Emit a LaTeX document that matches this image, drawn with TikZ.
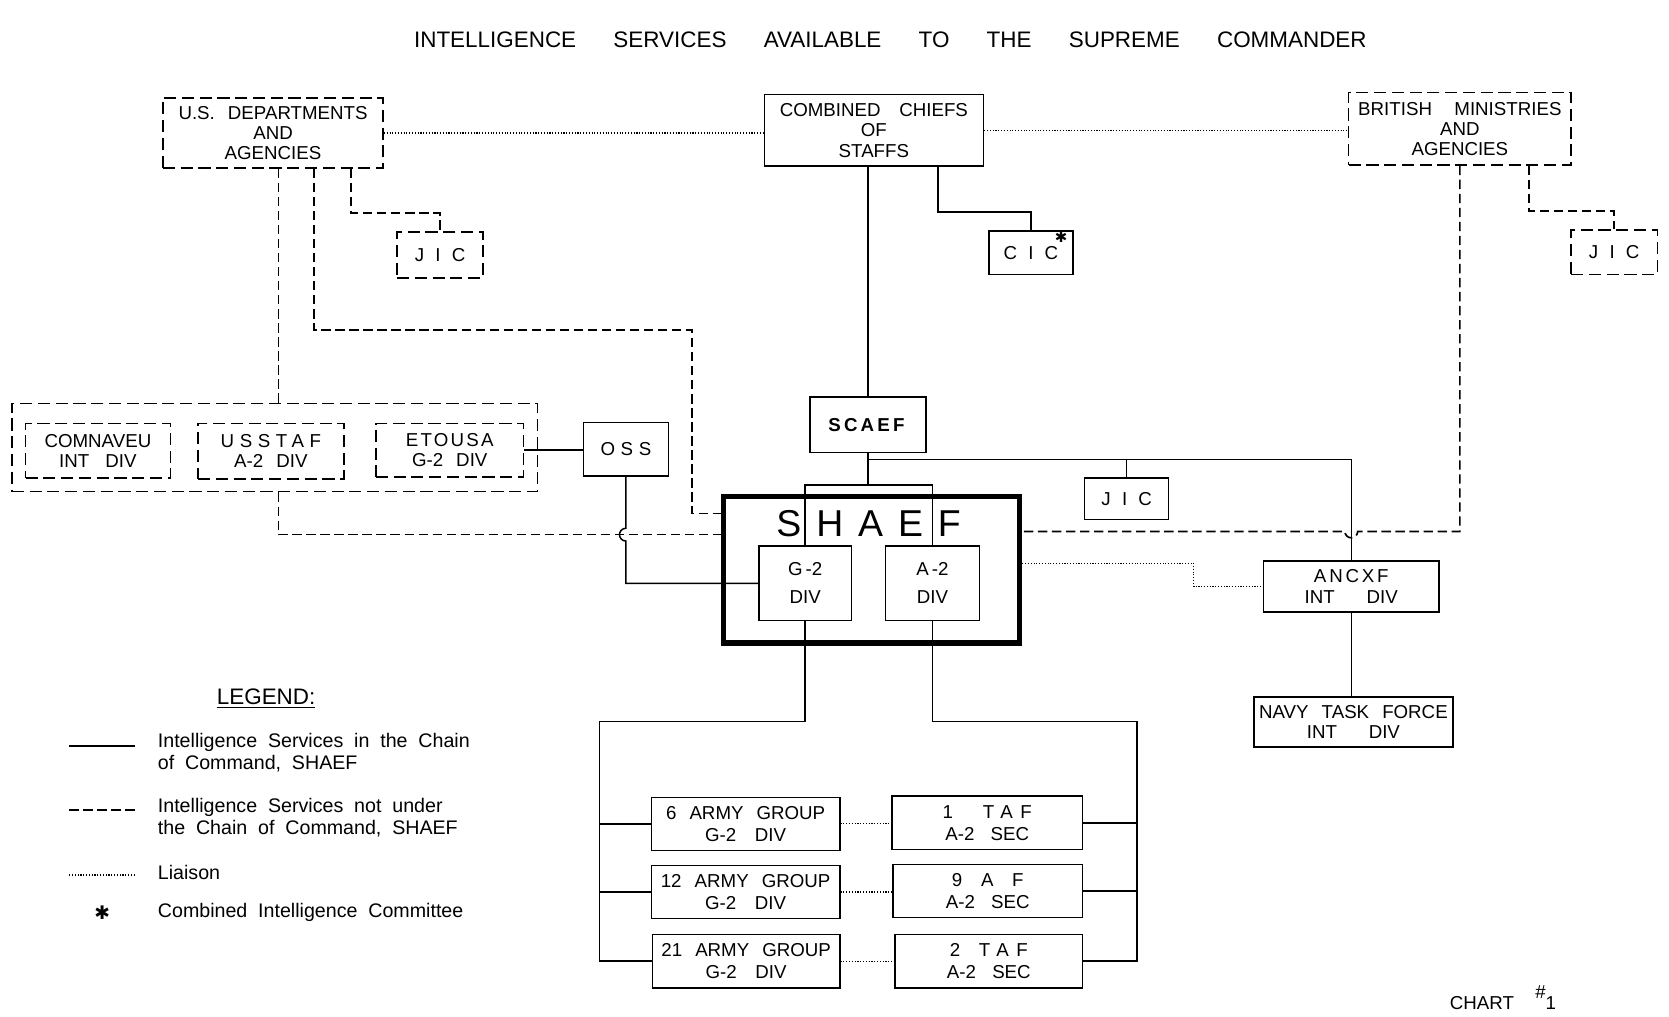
\documentclass[tikz,border=0pt]{standalone}
\usepackage{fontspec}
\setmainfont{Liberation Sans}
\newfontfamily\symfont{DejaVu Sans}
\usetikzlibrary{calc}
\newcommand{\trk}[2][30]{{\addfontfeature{LetterSpace=#1}#2}}
\tikzset{
    box/.style={rectangle, draw, line width=0.8pt, align=center, inner sep=1pt, font=\fontsize{10}{10.8}\selectfont\spaceskip 7pt\relax},
    extbox/.style={box, dash pattern=on 6.5pt off 3pt},
    boxsize/.style 2 args={minimum width=#1, minimum height=#2},
    chain/.style={line width=0.8pt},
    nochain/.style={line width=0.9pt, dash pattern=on 5pt off 2.5pt},
    liaison/.style={line width=0.6pt, dash pattern=on 0.6pt off 0.9pt},
    legtext/.style={anchor=west, align=left, inner sep=0pt, font=\fontsize{10.5}{11.5}\selectfont\spaceskip 5.8pt\relax},
}

\begin{document}
\begin{tikzpicture}[x=0.02cm, y=-0.02cm]
    \useasboundingbox (0,0) rectangle (1568,955);

    % Titolo
    \node[font=\fontsize{12}{14}\selectfont\spaceskip 0.7cm\relax] (title) at (836.5,37) {INTELLIGENCE SERVICES AVAILABLE TO THE SUPREME COMMANDER};

    % Vertice
    \node[extbox, boxsize={4.14cm}{1.32cm}] (us) at (256.5,125) {U.S.\ DEPARTMENTS\\AND\\AGENCIES};
    \node[box, boxsize={4.12cm}{1.34cm}] (ccs) at (821,122.5) {COMBINED\quad CHIEFS\\OF\\STAFFS};
    \node[extbox, boxsize={4.18cm}{1.36cm}] (brit) at (1371.5,121) {BRITISH \enspace MINISTRIES\\AND\\AGENCIES};
    \node[extbox, boxsize={1.62cm}{0.86cm}] (jicus) at (413.5,239.5) {\trk[60]{JIC}};
    \node[box, boxsize={1.58cm}{0.82cm}] (cic) at (968.5,237.5) {\trk[60]{CIC}};
    \node[font=\symfont\fontsize{8}{8}\selectfont, inner sep=0pt] (cicstar) at (997,223) {✱};
    \node[extbox, boxsize={1.62cm}{0.84cm}] (jicbr) at (1516.5,237) {\trk[60]{JIC}};

    % Servizi americani
    \node[extbox, boxsize={9.88cm}{1.66cm}] (grp) at (258,420.5) {};
    \node[extbox, boxsize={2.72cm}{1.02cm}] (comnav) at (92,423.5) {COMNAVEU\\INT \,DIV};
    \node[extbox, boxsize={2.74cm}{1.04cm}] (usstaf) at (254.5,424) {\trk{USSTAF}\\A-2 DIV};
    \node[extbox, boxsize={2.78cm}{1.0cm}] (etousa) at (422.5,423) {\trk[12]{ETOUSA}\\G-2 DIV};
    \node[box, boxsize={1.6cm}{1.0cm}] (oss) at (588,422) {\trk{OSS}};

    % SHAEF
    \node[box, boxsize={2.18cm}{1.04cm}] (scaef) at (815.5,399) {\textbf{\trk[17]{SCAEF}}};
    \node[draw, line width=2.8pt, boxsize={5.57cm}{2.75cm}] (shaef) at (818.75,535.3) {};
    \node[font=\fontsize{20}{22}\selectfont, inner sep=0pt] (shaeftxt) at (816,491.5) {S\hspace{2.8mm}H\hspace{2.8mm}A\hspace{2.8mm}E\hspace{2.8mm}F};
    \node[box, boxsize={1.74cm}{1.40cm}] (g2) at (756.5,548) {G\,-2\\[4pt]DIV};
    \node[box, boxsize={1.76cm}{1.40cm}] (a2) at (876,548) {A\,-2\\[4pt]DIV};
    \node[box, boxsize={1.58cm}{0.78cm}] (jicc) at (1058.5,468.5) {\trk[60]{JIC}};

    % Marina
    \node[box, boxsize={3.3cm}{0.96cm}] (ancxf) at (1269.5,551) {\trk[15]{ANCXF}\\INT \quad DIV};
    \node[box, boxsize={3.74cm}{0.94cm}] (navy) at (1271.5,678.5) {NAVY TASK FORCE\\INT \quad DIV};

    % Gruppi d'armata e forze aeree
    \node[box, boxsize={3.54cm}{1.0cm}] (ag6) at (700.5,774) {6 ARMY GROUP\\[1pt]G-2\quad DIV};
    \node[box, boxsize={3.54cm}{1.0cm}] (ag12) at (700.5,838) {12 ARMY GROUP\\[1pt]G-2\quad DIV};
    \node[box, boxsize={3.52cm}{1.0cm}] (ag21) at (701,903) {21 ARMY GROUP\\[1pt]G-2\quad DIV};
    \node[box, boxsize={3.58cm}{1.0cm}] (taf1) at (927.5,773) {1\hspace{1.6em}\trk[40]{TAF}\\[1pt]A-2 \,SEC};
    \node[box, boxsize={3.56cm}{1.0cm}] (af9) at (928,837) {9\quad A\quad F\\[1pt]A-2 \,SEC};
    \node[box, boxsize={3.52cm}{1.0cm}] (taf2) at (929,903) {2\quad \trk[40]{TAF}\\[1pt]A-2 \,SEC};

    % Collegamenti (linea di comando)
    \draw[chain] (scaef.north |- ccs.south) -- (scaef.north);
    \coordinate (ccsC) at ($(ccs.south)+(60,0)$);
    \draw[chain] (ccsC) |- ($(cic.north)+(0,-17)$) -- (cic.north);
    \draw[chain] (scaef.south) -- ++(0,30) coordinate (bar);
    \draw[chain] (g2.north) |- (a2.north |- bar) -- (a2.north);
    \coordinate (tapR) at ($(scaef.south)+(0,6)$);
    \draw[chain] (tapR) -| (ancxf.north);
    \draw[chain] (jicc.north) -- (jicc.north |- tapR);
    \draw[chain] (ancxf.south) -- (ancxf.south |- navy.north);
    \draw[chain] (etousa.east) -- (etousa.east -| oss.west);
    \coordinate (dashL) at ($(shaef.west)+(0,-33)$);
    \draw[chain] (oss.south) -- ($(oss.south |- dashL)+(0,-6)$) arc[start angle=90, end angle=270, radius=1.2mm] -- (oss.south |- g2.west) -- (g2.west);
    \coordinate (busL) at (563,678);
    \coordinate (busR) at (1068,678);
    \draw[chain] (g2.south) |- (busL) |- (ag21.west);
    \draw[chain] (a2.south) |- (busR) |- (taf2.east);
    \foreach \n in {ag6, ag12} \draw[chain] (\n.west) -- (\n.west -| busL);
    \foreach \n in {taf1, af9} \draw[chain] (\n.east) -- (\n.east -| busR);

    % Collegamenti (fuori dalla linea di comando)
    \coordinate (usA) at ($(us.south)+(5,0)$);
    \coordinate (usB) at ($(us.south)+(38.5,0)$);
    \coordinate (usC) at ($(us.south)+(73.5,0)$);
    \coordinate (bendUS) at (650,310);
    \draw[nochain] (usA) -- (usA |- grp.north);
    \draw[nochain] (usA |- grp.south) |- (dashL);
    \draw[nochain] (usB) |- (bendUS) |- ($(shaef.west)+(0,-53)$);
    \draw[nochain] (usC) |- ($(jicus.north)+(0,-17)$) -- (jicus.north);
    \draw[nochain] ($(brit.south)+(65,0)$) |- ($(jicbr.north)+(0,-17)$) -- (jicbr.north);
    \coordinate (dashR) at ($(shaef.east)+(0,-36)$);
    \draw[nochain] (brit.south) |- ($(dashR -| ancxf.north)+(6,0)$) arc[start angle=0, end angle=-180, radius=1.2mm] -- (dashR);

    % Collegamenti (liaison)
    \draw[liaison] (us.east) -- (us.east -| ccs.west);
    \draw[liaison] (ccs.east) -- (ccs.east -| brit.west);
    \draw[liaison] ($(shaef.east)+(0,-6)$) -- ++(161,0) |- (ancxf.west);
    \draw[liaison] (ag6.east) -- (ag6.east -| taf1.west);
    \draw[liaison] (ag12.east) -- (ag12.east -| af9.west);
    \draw[liaison] (ag21.east) -- (ag21.east -| taf2.west);

    % Legenda
    \node[font=\fontsize{12}{14}\selectfont] (legtitle) at (250,656) {\underline{LEGEND:}};
    \draw[chain] (65,701) -- (127,701);
    \node[legtext] (leg1) at (148,707) {Intelligence Services in the Chain\\of Command, SHAEF};
    \draw[nochain] (65,761) -- (127,761);
    \node[legtext] (leg2) at (148,768) {Intelligence Services not under\\the Chain of Command, SHAEF};
    \draw[liaison] (65,822) -- (127,822);
    \node[legtext] (leg3) at (148,820) {Liaison};
    \node[font=\symfont\fontsize{10}{10}\selectfont, inner sep=0pt] (legstar) at (96,857) {✱};
    \node[legtext] (leg4) at (148,857) {Combined Intelligence Committee};

    \node[anchor=west, font=\fontsize{10}{12}\selectfont] (chart) at (1356,937) {CHART\hspace{4mm}\raisebox{1.1ex}{\#}1};
\end{tikzpicture}
\end{document}
